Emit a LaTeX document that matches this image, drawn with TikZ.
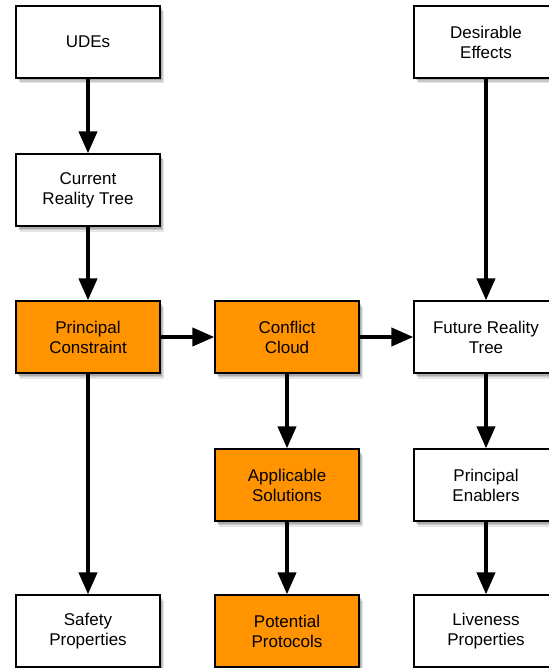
\documentclass[tikz,border=0pt]{standalone}
\usepackage{fontspec}
\setmainfont{Liberation Sans}
\usetikzlibrary{arrows.meta,shadows}
\definecolor{boxorange}{RGB}{255,147,0}
\tikzset{
  softshadow/.style={
    drop shadow={shadow xshift=1.5pt,shadow yshift=-2.5pt,opacity=.14,fill=black},
    drop shadow={shadow xshift=2.5pt,shadow yshift=-4pt,opacity=.12,fill=black},
    drop shadow={shadow xshift=3.5pt,shadow yshift=-5.5pt,opacity=.10,fill=black}},
  stagebox/.style={draw=black,line width=1.3pt,fill=white,minimum width=144pt,
    minimum height=72pt,inner sep=0pt,align=center,softshadow,
    font=\fontsize{17}{20}\selectfont},
  hotbox/.style={stagebox,fill=boxorange},
  flow/.style={line width=4pt,-{Triangle[length=22pt,width=18pt]}}
}
\begin{document}
\begin{tikzpicture}[x=1pt,y=-1pt]
\useasboundingbox[fill=white] (0,0) rectangle (548,668);
% column 1
\node[stagebox] (ude) at (88,42) {UDEs};
\node[stagebox] (crt) at (88,190) {Current\\Reality Tree};
\node[hotbox]   (pc)  at (88,337) {Principal\\Constraint};
\node[stagebox] (sp)  at (88,631) {Safety\\Properties};
% column 2
\node[hotbox] (cc) at (287,337) {Conflict\\Cloud};
\node[hotbox] (as) at (287,485) {Applicable\\Solutions};
\node[hotbox] (pp) at (287,631) {Potential\\Protocols};
% column 3
\node[stagebox] (de)  at (486,42) {Desirable\\Effects};
\node[stagebox] (frt) at (486,337) {Future Reality\\Tree};
\node[stagebox] (pe)  at (486,485) {Principal\\Enablers};
\node[stagebox] (lp)  at (486,631) {Liveness\\Properties};
% connectors
\draw[flow] (ude) -- (crt);
\draw[flow] (crt) -- (pc);
\draw[flow] (pc) -- (sp);
\draw[flow] (pc) -- (cc);
\draw[flow] (cc) -- (frt);
\draw[flow] (cc) -- (as);
\draw[flow] (as) -- (pp);
\draw[flow] (de) -- (frt);
\draw[flow] (frt) -- (pe);
\draw[flow] (pe) -- (lp);
\end{tikzpicture}
\end{document}
